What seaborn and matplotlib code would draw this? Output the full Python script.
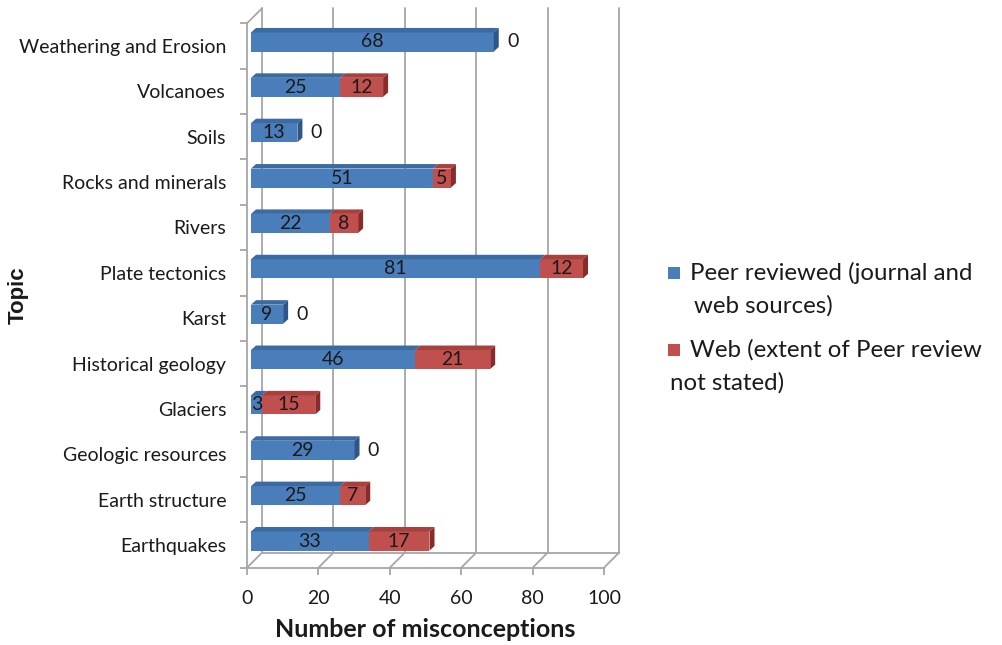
import numpy as np
import pandas as pd
import matplotlib
matplotlib.use('Agg')
import matplotlib.pyplot as plt
from matplotlib.patches import Polygon, Rectangle
from matplotlib.transforms import ScaledTranslation, blended_transform_factory
import seaborn as sns

topics = ['Weathering and Erosion', 'Volcanoes', 'Soils', 'Rocks and minerals', 'Rivers',
          'Plate tectonics', 'Karst', 'Historical geology', 'Glaciers', 'Geologic resources',
          'Earth structure', 'Earthquakes']
peer = [68, 25, 13, 51, 22, 81, 9, 46, 3, 29, 25, 33]
web = [0, 12, 0, 5, 8, 12, 0, 21, 15, 0, 7, 17]
xticks = [0, 20, 40, 60, 80, 100]
legend_lines = [['Peer reviewed (journal and', 'web sources)'],
                ['Web (extent of Peer review', 'not stated)']]

blue, blue_top, blue_side = '#4A7EBB', '#3C6AA2', '#2F568A'
red, red_top, red_side = '#C0504D', '#A8413E', '#8A2B29'
grid_c = '#A6A6A6'
txt_c = '#1a1a1a'

df = pd.DataFrame({'Topic': topics, 'Peer': peer, 'Web': web})
df['Total'] = df['Peer'] + df['Web']

sns.set_style('white')
plt.rcParams['font.family'] = ['Lato', 'DejaVu Sans']

fig = plt.figure(figsize=(10.03, 6.45), dpi=100)
ax = fig.add_axes([247 / 1003, 1 - 567.7 / 645, 357 / 1003, 544.4 / 645])

sns.barplot(data=df, y='Topic', x='Total', color=red, saturation=1, width=0.42,
            orient='h', ax=ax, linewidth=0)
sns.barplot(data=df, y='Topic', x='Peer', color=blue, saturation=1, width=0.42,
            orient='h', ax=ax, linewidth=0)

ax.set_xlim(0, 100)
ax.set_ylim(11.5, -0.5)

# bars sit a little behind the front plane
bar_off = ax.transData + ScaledTranslation(4 / 100, 4 / 100, fig.dpi_scale_trans)
for p in ax.patches:
    p.set_transform(bar_off)

# depth of the 3d faces in data units
pxu_x = 357 / 100
pxu_y = 544.4 / 12
dx, dy = 5 / pxu_x, 4.5 / pxu_y
h = 0.42
for i, (pv, wv) in enumerate(zip(peer, web)):
    top = i - h / 2
    bot = i + h / 2
    segs = [(0, pv, blue_top)]
    if wv > 0:
        segs.append((pv, pv + wv, red_top))
    for a, b, c in segs:
        ax.add_patch(Polygon([(a, top), (b, top), (b + dx, top - dy), (a + dx, top - dy)],
                             closed=True, facecolor=c, edgecolor='none', transform=bar_off))
    end = pv + wv
    sc = red_side if wv > 0 else blue_side
    ax.add_patch(Polygon([(end, bot), (end, top), (end + dx, top - dy), (end + dx, bot - dy)],
                         closed=True, facecolor=sc, edgecolor='none', transform=bar_off))
    ax.text(pv / 2, i, str(pv), ha='center', va='center', fontsize=14, color=txt_c,
            transform=bar_off)
    if wv > 0:
        ax.text(pv + wv / 2, i, str(wv), ha='center', va='center', fontsize=14,
                color=txt_c, transform=bar_off)
    else:
        ax.text(end, i, '0', ha='center', va='center', fontsize=14, color=txt_c,
                transform=bar_off + ScaledTranslation(19 / 100, 0, fig.dpi_scale_trans))

# back wall / floor lines
bl = blended_transform_factory(ax.transData, ax.transAxes)
back = bl + ScaledTranslation(15 / 100, 15 / 100, fig.dpi_scale_trans)
ddx, ddy = 15 / pxu_x, 15 / 544.4
for v in xticks:
    ax.plot([v, v], [0, 1], color=grid_c, lw=1.3, transform=back, clip_on=False, zorder=0)
    ax.plot([v, v + ddx], [0, ddy], color=grid_c, lw=1.3, transform=bl, clip_on=False, zorder=0)
ax.plot([0, 100], [0, 0], color=grid_c, lw=1.3, transform=back, clip_on=False, zorder=0)
ax.plot([0, ddx], [1, 1 + ddy], color=grid_c, lw=1.3, transform=bl, clip_on=False, zorder=0)

for s in ['top', 'right']:
    ax.spines[s].set_visible(False)
for s in ['left', 'bottom']:
    ax.spines[s].set_color(grid_c)
    ax.spines[s].set_linewidth(1.3)

ax.set_xticks(xticks)
ax.set_yticks(range(len(topics)))
ax.set_yticklabels(topics)
ax.set_yticks(np.arange(-0.5, len(topics), 1), minor=True)
ax.tick_params(axis='y', which='major', length=0, pad=15, labelsize=14, labelcolor=txt_c)
ax.tick_params(axis='y', which='minor', length=5, width=1.3, color=grid_c, left=True)
ax.tick_params(axis='x', length=5, width=1.3, color=grid_c, pad=11, labelsize=14,
               labelcolor=txt_c, bottom=True)
ax.grid(False)

ax.set_xlabel('Number of misconceptions', fontsize=18, fontweight='bold', labelpad=8,
              color=txt_c)
ax.set_ylabel('')
fig.text(18 / 1003, 1 - 295 / 645, 'Topic', rotation=90, ha='center', va='center',
         fontsize=16, fontweight='bold', color=txt_c,
         family=['Liberation Sans', 'DejaVu Sans'])

# legend
leg_colors = [blue, red]
leg_y = [273, 350]
second_x = [694, 670]
for lines, c, y, x2 in zip(legend_lines, leg_colors, leg_y, second_x):
    fig.add_artist(Rectangle((668 / 1003, 1 - (y + 6) / 645), 12 / 1003, 12 / 645,
                             facecolor=c, edgecolor='none', transform=fig.transFigure))
    fig.text(690 / 1003, 1 - y / 645, lines[0], ha='left', va='center', fontsize=17.3,
             color=txt_c)
    fig.text(x2 / 1003, 1 - (y + 33) / 645, lines[1], ha='left', va='center', fontsize=17.3,
             color=txt_c)

fig.savefig('out.png', dpi=100)
